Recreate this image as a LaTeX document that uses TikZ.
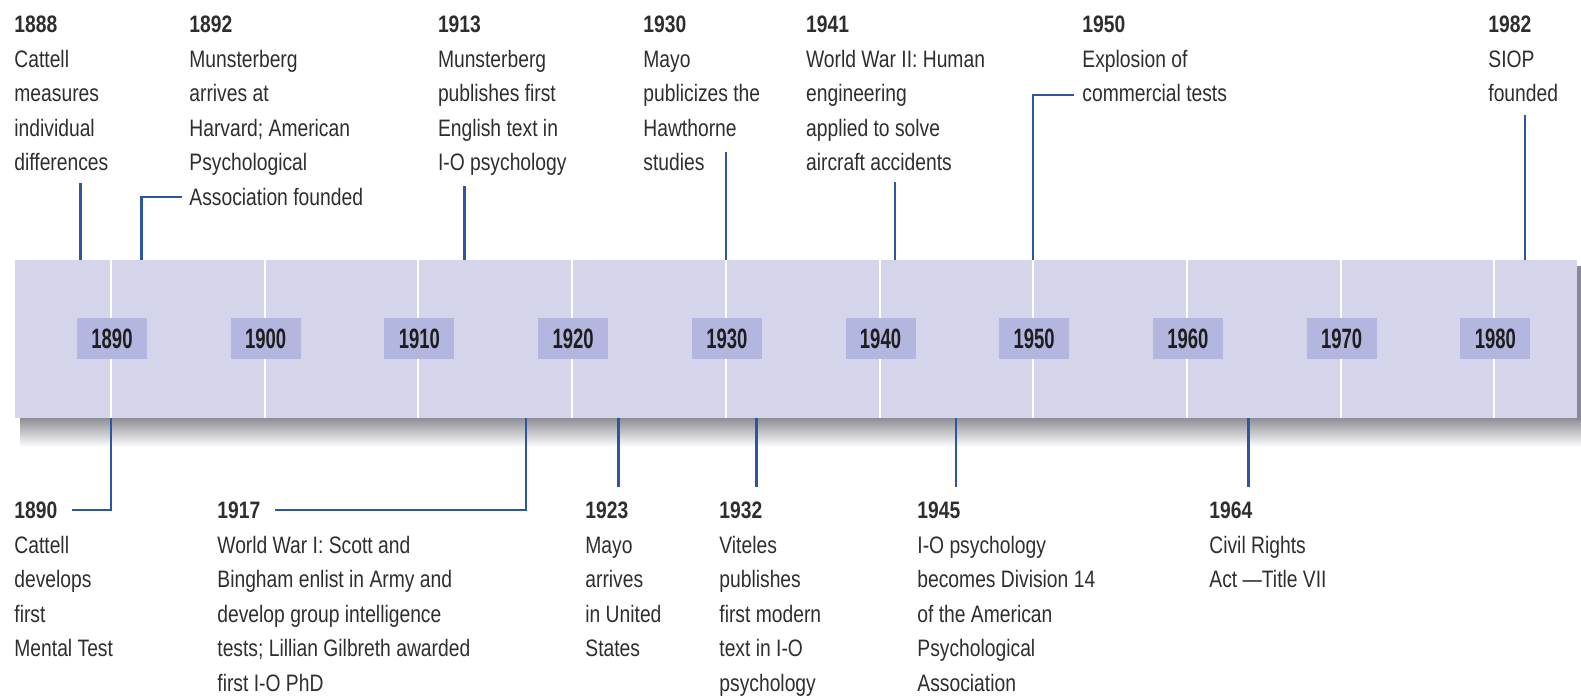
\documentclass[tikz,border=0pt]{standalone}
\usepackage{fontspec}
\setmainfont{Liberation Sans}[FakeStretch=0.81]
\newfontfamily\yearfont{Liberation Sans}[FakeStretch=0.66]
\definecolor{bandc}{HTML}{D4D5EA}
\definecolor{boxc}{HTML}{B3B6DE}
\definecolor{linec}{HTML}{2B56A6}
\definecolor{txtc}{HTML}{2E2E2E}
\definecolor{yrc}{HTML}{1E1E1E}
\definecolor{shadc}{HTML}{8A8A92}
\begin{document}
\begin{tikzpicture}[x=0.5pt,y=-0.5pt,
  evt/.style={anchor=north west,align=left,inner sep=0pt,text=txtc,
    font=\fontsize{11.9}{17.3}\selectfont},
  yrbox/.style={fill=boxc,minimum width=35pt,minimum height=20.5pt,inner sep=0pt,
    text=yrc,font=\yearfont\bfseries\fontsize{14}{16}\selectfont},
  conn/.style={draw=linec,line width=1.3pt},
  dec/.style={draw=white,line width=1pt}]
\useasboundingbox (0,0) rectangle (1581,698);
% shadow
\shade[top color=shadc,bottom color=white] (20,417) rectangle (1581,447);
\fill[shadc] (1575,266) rectangle (1581,420);
% band
\fill[bandc] (15,260) rectangle (1577,418);
% decade lines and year boxes
\foreach \d [count=\i from 0] in {1890,1900,1910,1920,1930,1940,1950,1960,1970,1980}{
  \pgfmathsetmacro{\xx}{111+\i*153.7}
  \draw[dec] (\xx,260) -- (\xx,418);
  \node[yrbox] (y\d) at (\xx+1,338.5) {\d};
}
% top events
\node[evt] (e1888) at (14,7.8) {\strut\textbf{1888}\\Cattell\\measures\\individual\\differences};
\node[evt] (e1892) at (189,7.8) {\strut\textbf{1892}\\Munsterberg\\arrives at\\Harvard; American\\Psychological\\Association founded};
\node[evt] (e1913) at (437.6,7.8) {\strut\textbf{1913}\\Munsterberg\\publishes first\\English text in\\I-O psychology};
\node[evt] (e1930) at (643,7.8) {\strut\textbf{1930}\\Mayo\\publicizes the\\Hawthorne\\studies};
\node[evt] (e1941) at (805.7,7.8) {\strut\textbf{1941}\\World War II: Human\\engineering\\applied to solve\\aircraft accidents};
\node[evt] (e1950) at (1082,7.8) {\strut\textbf{1950}\\Explosion of\\commercial tests};
\node[evt] (e1982) at (1488,7.8) {\strut\textbf{1982}\\SIOP\\founded};
% bottom events
\node[evt] (e1890) at (14,493.8) {\strut\textbf{1890}\\Cattell\\develops\\first\\Mental Test};
\node[evt] (e1917) at (217,493.8) {\strut\textbf{1917}\\World War I: Scott and\\Bingham enlist in Army and\\develop group intelligence\\tests; Lillian Gilbreth awarded\\first I-O PhD};
\node[evt] (e1923) at (585,493.8) {\strut\textbf{1923}\\Mayo\\arrives\\in United\\States};
\node[evt] (e1932) at (719,493.8) {\strut\textbf{1932}\\Viteles\\publishes\\first modern\\text in I-O\\psychology};
\node[evt] (e1945) at (917,493.8) {\strut\textbf{1945}\\I-O psychology\\becomes Division 14\\of the American\\Psychological\\Association};
\node[evt] (e1964) at (1209,493.8) {\strut\textbf{1964}\\Civil Rights\\Act ---Title VII};
% band anchor coordinates
\coordinate (b1888) at (80.3,260);   \coordinate (c1888) at (80.3,183);
\coordinate (b1892) at (141.7,260);  \coordinate (c1892) at (141.7,197); \coordinate (d1892) at (182,197);
\coordinate (b1913) at (464.5,260);  \coordinate (c1913) at (464.5,186);
\coordinate (b1930) at (725.8,260);  \coordinate (c1930) at (725.8,152);
\coordinate (b1941) at (894.9,260);  \coordinate (c1941) at (894.9,182);
\coordinate (b1950) at (1033,260);   \coordinate (c1950) at (1033,95); \coordinate (d1950) at (1074,95);
\coordinate (b1982) at (1525,260);   \coordinate (c1982) at (1525,115);
\coordinate (b1890) at (111,418);    \coordinate (c1890) at (111,510); \coordinate (d1890) at (72,510);
\coordinate (b1917) at (526,418);    \coordinate (c1917) at (526,510); \coordinate (d1917) at (275,510);
\coordinate (b1923) at (618.2,418);  \coordinate (c1923) at (618.2,487);
\coordinate (b1932) at (756.5,418);  \coordinate (c1932) at (756.5,487);
\coordinate (b1945) at (956,418);    \coordinate (c1945) at (956,487);
\coordinate (b1964) at (1248.4,418); \coordinate (c1964) at (1248.4,487);
% connectors
\draw[conn] (b1888) -- (c1888);
\draw[conn] (b1892) -- (c1892) -- (d1892);
\draw[conn] (b1913) -- (c1913);
\draw[conn] (b1930) -- (c1930);
\draw[conn] (b1941) -- (c1941);
\draw[conn] (b1950) -- (c1950) -- (d1950);
\draw[conn] (b1982) -- (c1982);
\draw[conn] (b1890) -- (c1890) -- (d1890);
\draw[conn] (b1917) -- (c1917) -- (d1917);
\draw[conn] (b1923) -- (c1923);
\draw[conn] (b1932) -- (c1932);
\draw[conn] (b1945) -- (c1945);
\draw[conn] (b1964) -- (c1964);
\end{tikzpicture}
\end{document}
